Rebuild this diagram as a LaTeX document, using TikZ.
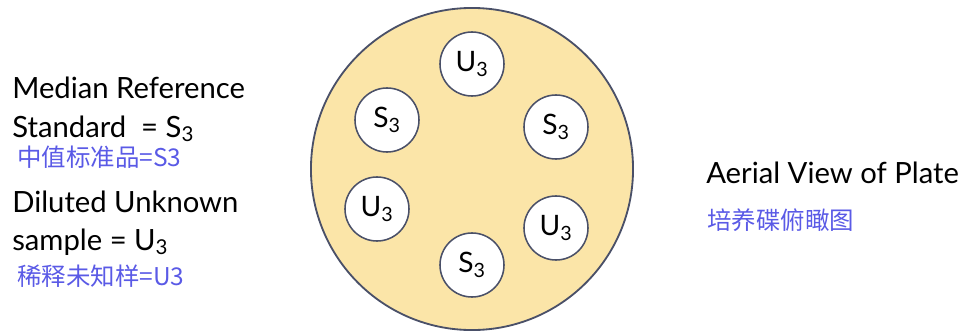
\documentclass[tikz,border=0pt]{standalone}
\usepackage{fontspec}
\setmainfont{Lato}
\newfontfamily\cjk{Noto Sans CJK SC}
\usepackage{xcolor}
\usetikzlibrary{positioning}
\definecolor{platefill}{HTML}{FBE5A8}
\definecolor{plateline}{HTML}{4A5068}
\definecolor{cnblue}{HTML}{5A5AE6}

\begin{document}
\begin{tikzpicture}[x=0.025cm,y=-0.025cm,
  plate/.style={circle,draw=plateline,line width=1.3pt,fill=platefill,minimum size=8.05cm,inner sep=0},
  well/.style={circle,draw=plateline,line width=1.1pt,fill=white,minimum size=1.6cm,inner sep=0,font=\fontsize{20}{24}\selectfont},
  label/.style={anchor=base west,inner sep=0,font=\fontsize{20.8}{27}\selectfont},
  cnlabel/.style={anchor=base west,inner sep=0,text=cnblue,font=\cjk\fontsize{17.4}{20}\selectfont}]
\useasboundingbox (0,0) rectangle (962,336);

% Legend
\node[label] (med) at (12,98) {Median Reference};
\node[label] (std) at (12,137) {Standard\ \ = S\textsubscript{3}};
\node[cnlabel] (stdcn) at (17,166) {中值标准品=S3};
\node[label] (dil) at (12,212) {Diluted Unknown};
\node[label] (smp) at (12,250) {sample = U\textsubscript{3}};
\node[cnlabel] (smpcn) at (17,285) {稀释未知样=U3};

% Plate
\node[plate] (plate) at (472,169) {};
\node[well] (u1) at (472,64) {U\textsubscript{3}};
\node[well] (s1) at (387,120) {S\textsubscript{3}};
\node[well] (s2) at (556,127) {S\textsubscript{3}};
\node[well] (u2) at (377,209) {U\textsubscript{3}};
\node[well] (u3) at (556,228) {U\textsubscript{3}};
\node[well] (s3) at (472,265) {S\textsubscript{3}};

% Caption
\node[label] (view) at (706,183) {Aerial View of Plate};
\node[cnlabel] (viewcn) at (707,229) {培养碟俯瞰图};
\end{tikzpicture}
\end{document}
